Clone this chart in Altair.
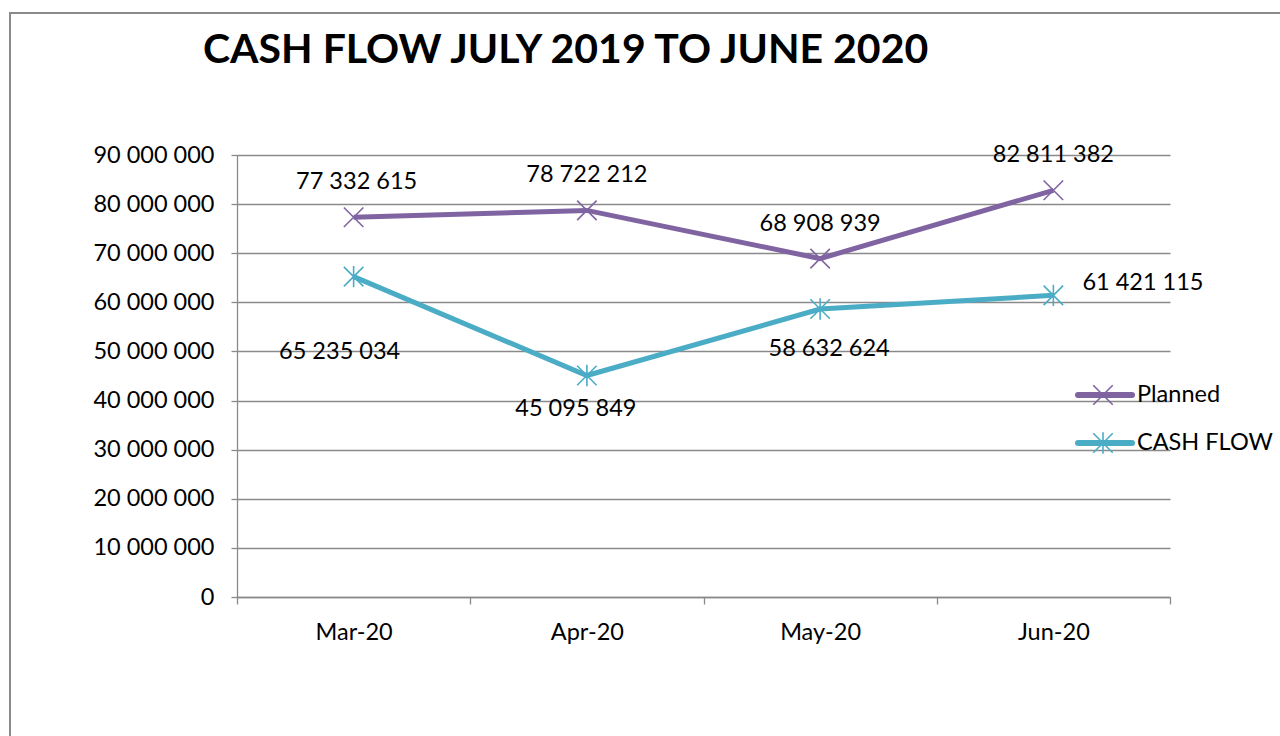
import altair as alt
import pandas as pd

months = ["Mar-20", "Apr-20", "May-20", "Jun-20"]
planned = [77332615, 78722212, 68908939, 82811382]
cash_flow = [65235034, 45095849, 58632624, 61421115]
series_names = ["Planned", "CASH FLOW"]
series_colors = ["#8064A2", "#4BACC6"]
y_ticks = [0, 10000000, 20000000, 30000000, 40000000, 50000000,
           60000000, 70000000, 80000000, 90000000]
title_text = "CASH FLOW JULY 2019 TO JUNE 2020"

rows = []
for m, p in zip(months, planned):
    rows.append({"month": m, "series": "Planned", "value": p})
for m, c in zip(months, cash_flow):
    rows.append({"month": m, "series": "CASH FLOW", "value": c})
df = pd.DataFrame(rows)

FONT = "Lato"
FS = 23.5
GRID = "#8a8a8a"
fmt_expr = "replace(format(datum.value, ',d'), regexp(',', 'g'), ' ')"

x_enc = alt.X("month:N", sort=months, bandPosition=0.5,
              scale=alt.Scale(type="band", paddingInner=0, paddingOuter=0),
              axis=alt.Axis(tickBand="extent", grid=False, tickSize=7, labelPadding=16,
                            labelAngle=0, labelFontSize=FS, labelFont=FONT, labelColor="black",
                            title=None, domainColor=GRID, tickColor=GRID,
                            domainWidth=1.3, tickWidth=1.3))
y_enc = alt.Y("value:Q", scale=alt.Scale(domain=[0, 90000000], nice=False),
              axis=alt.Axis(values=y_ticks, labelExpr=fmt_expr, tickSize=6,
                            tickColor=GRID, domainColor=GRID, gridColor=GRID,
                            gridWidth=1.3, domainWidth=1.3, tickWidth=1.3,
                            labelFontSize=FS, labelFont=FONT, labelColor="black",
                            labelPadding=17, title=None))
color_enc = alt.Color("series:N", scale=alt.Scale(domain=series_names, range=series_colors),
                      legend=None)
x_path = "M-1,-1L1,1M-1,1L1,-1"
ast_path = "M-1,-1L1,1M-1,1L1,-1M0,-1.1L0,1.1"
shape_enc = alt.Shape("series:N", scale=alt.Scale(domain=series_names, range=[x_path, ast_path]),
                      legend=None)

base = alt.Chart(df)
lines = base.mark_line(strokeWidth=5).encode(x=x_enc, y=y_enc, color=color_enc, detail="series:N")
points = base.mark_point(filled=False, size=380, strokeWidth=1.6, opacity=1).encode(
    x=x_enc, y=alt.Y("value:Q"), color=color_enc, shape=shape_enc)

# label offsets (dx, dy, align) per series per month
label_offsets = {
    "Planned": [(3, -35, "center"), (0, -35, "center"), (0, -35, "center"), (0, -35, "center")],
    "CASH FLOW": [(-14, 75, "center"), (-11, 33, "center"), (9, 40, "center"), (29, -12, "left")],
}
label_layers = []
for s in series_names:
    for i, m in enumerate(months):
        dx, dy, al = label_offsets[s][i]
        label_layers.append(
            base.transform_filter(
                (alt.datum.series == s) & (alt.datum.month == m)
            ).transform_calculate(lbl=fmt_expr).mark_text(
                dx=dx, dy=dy, align=al, baseline="middle", fontSize=FS, font=FONT, color="black"
            ).encode(x=x_enc, y=alt.Y("value:Q"), text="lbl:N")
        )

title_mark = alt.Chart(pd.DataFrame({"t": [title_text]})).mark_text(
    align="left", baseline="alphabetic", font=FONT, fontSize=41, fontWeight="bold", color="black"
).encode(text="t:N", x=alt.value(-34), y=alt.value(-92))

border = alt.Chart(pd.DataFrame({"a": [0]})).mark_rect(
    fillOpacity=0, stroke="#8a8a8a", strokeWidth=2
).encode(x=alt.value(-227), x2=alt.value(1100), y=alt.value(-142), y2=alt.value(650))

main = alt.layer(border, lines, points, *label_layers, title_mark)

leg_df = pd.DataFrame({"series": series_names})
leg_y = alt.Y("series:N", scale=alt.Scale(type="point", domain=series_names, range=[240, 288],
                                          padding=0), axis=None)
leg_base = alt.Chart(leg_df)
leg_rule = leg_base.mark_rule(strokeWidth=6, strokeCap="round").encode(
    x=alt.value(841), x2=alt.value(895), y=leg_y, color=color_enc)
leg_pt = leg_base.mark_point(filled=False, size=380, strokeWidth=1.6, opacity=1).encode(
    x=alt.value(866), y=leg_y, color=color_enc, shape=shape_enc)
leg_txt = leg_base.mark_text(align="left", baseline="middle", fontSize=FS, font=FONT,
                             color="black").encode(x=alt.value(900), y=leg_y, text="series:N")
legend = alt.layer(leg_rule, leg_pt, leg_txt)

chart = alt.layer(main, legend).resolve_scale(y="independent").properties(
    width=933, height=442, autosize="none",
    padding={"left": 237, "top": 155, "right": 110, "bottom": 139},
    background="white",
).configure_view(stroke=None)

chart.save("out.html", embed_options={"renderer": "svg", "actions": False})
